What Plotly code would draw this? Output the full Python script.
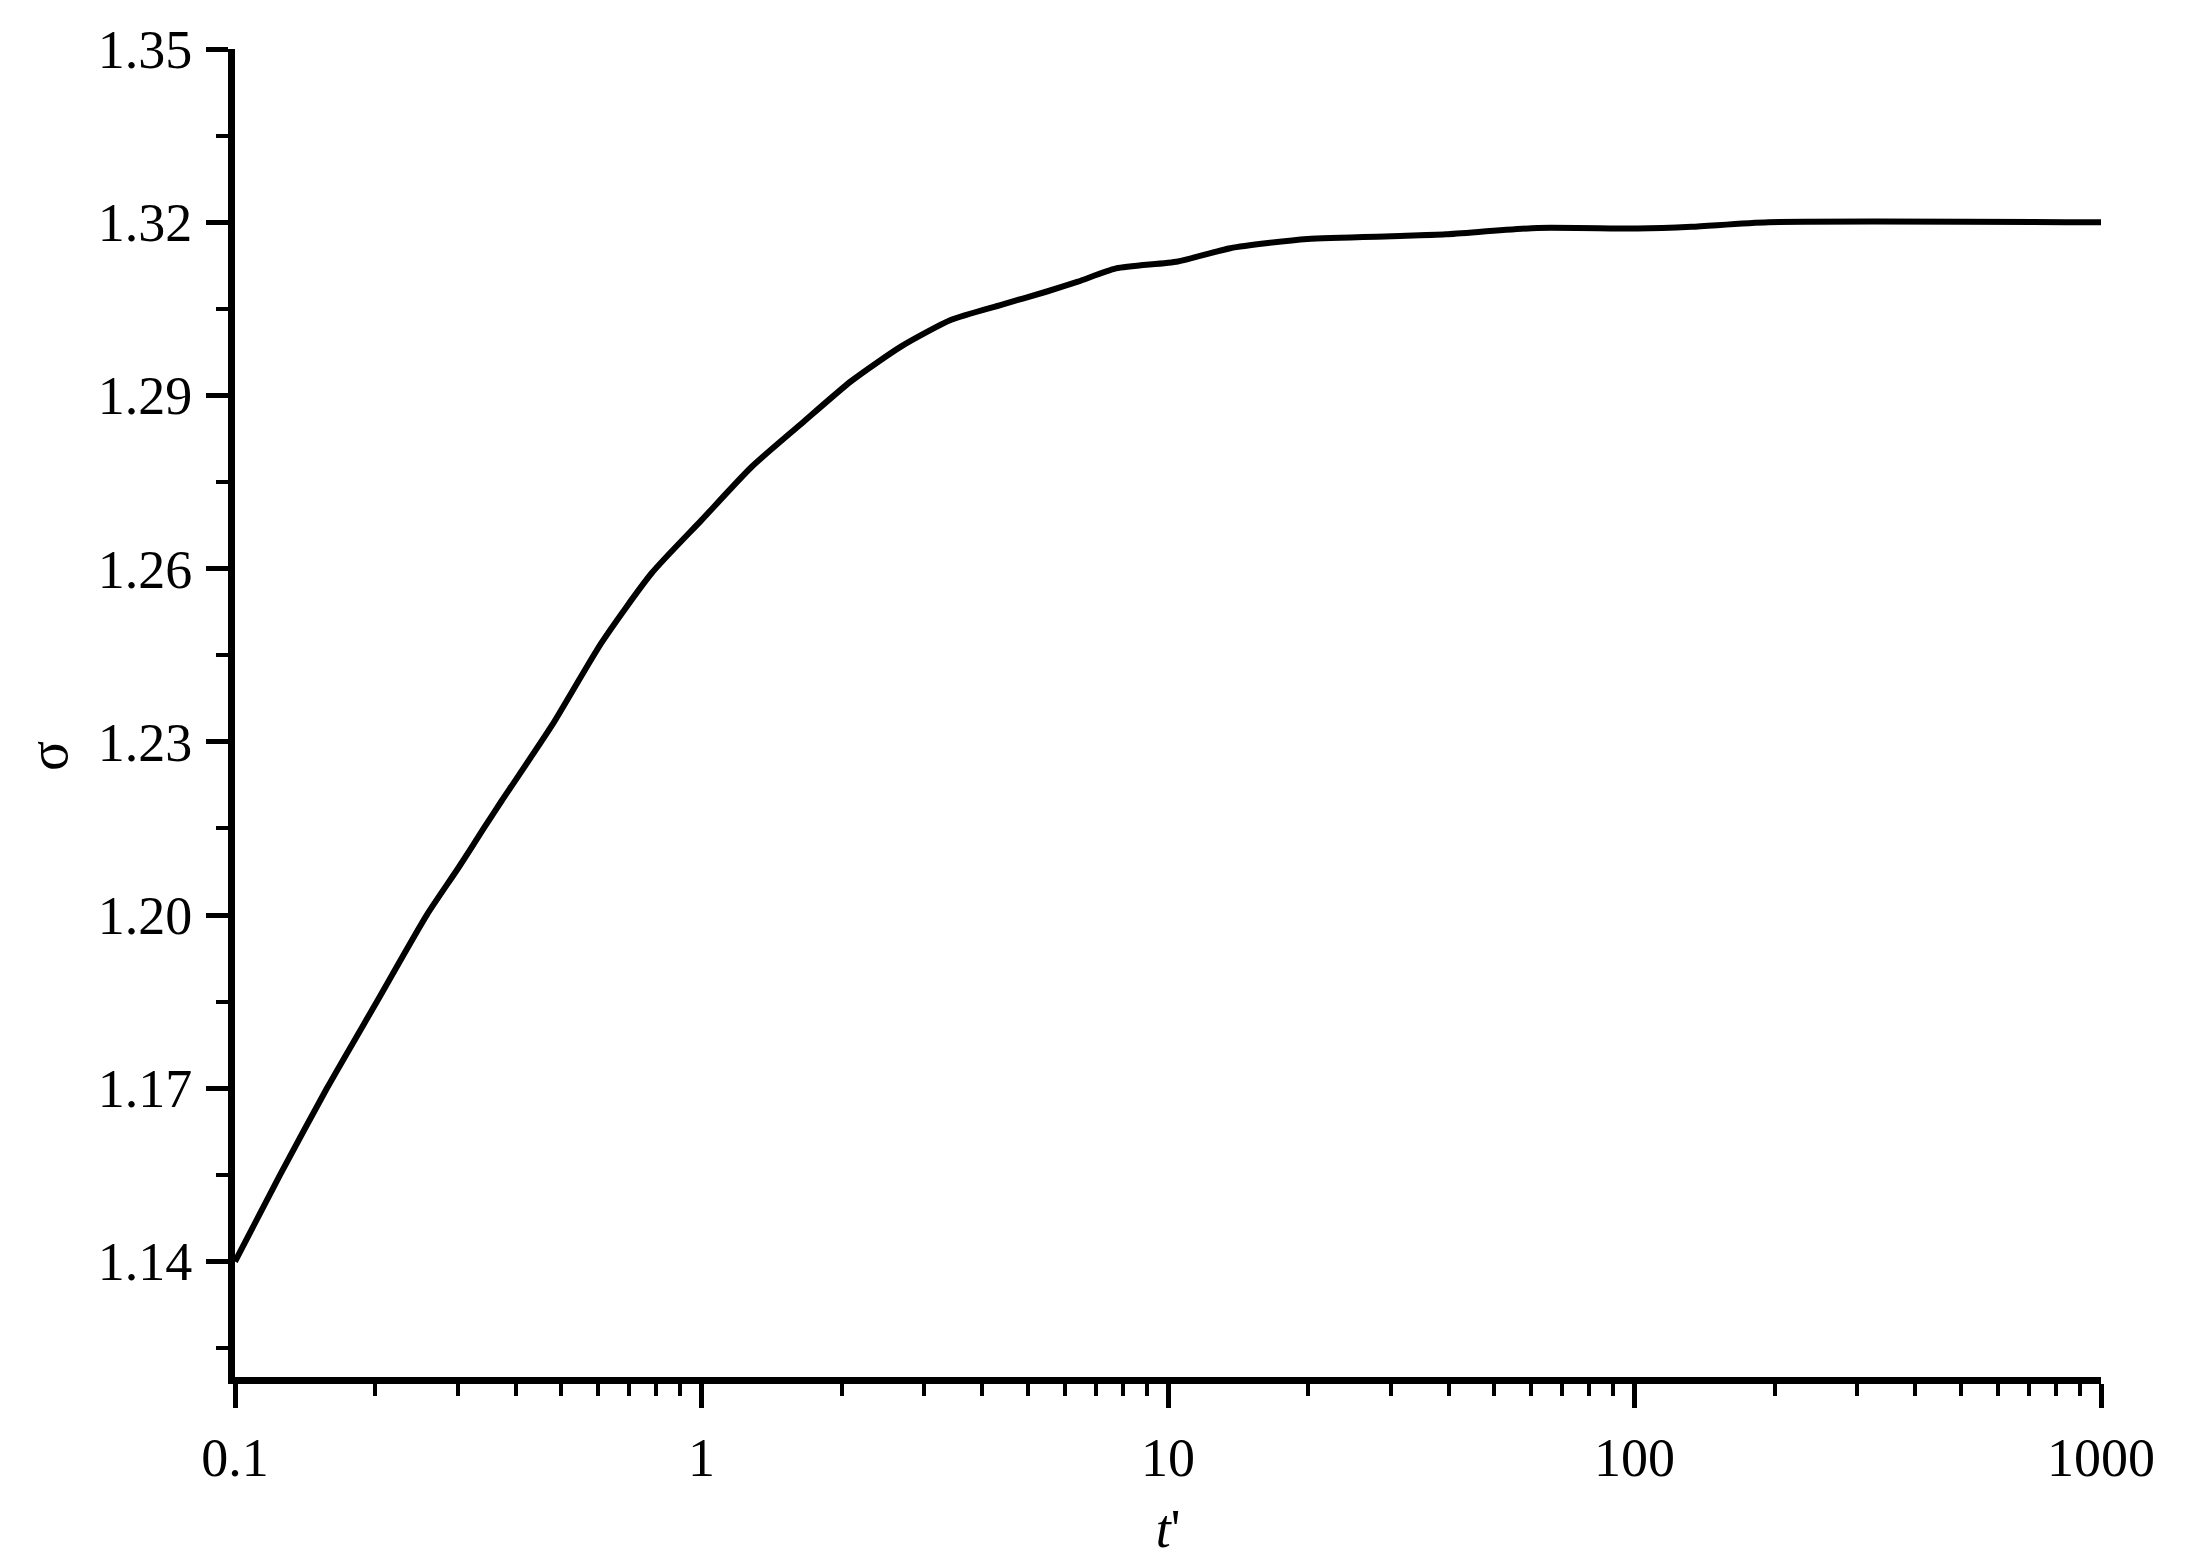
import plotly.graph_objects as go

# Data
t_prime = [0.1, 0.1249, 0.1574, 0.2014, 0.2576, 0.3013, 0.3412, 0.373, 0.4775, 0.6107,
           0.7816, 1.0, 1.28, 1.637, 2.095, 2.681, 3.43, 4.39, 5.5, 6.41,
           7.74, 10.5, 13.6, 19.9, 31.4, 39.4, 61.9, 101.5, 132.5, 193.6, 1000]
sigma = [1.1400, 1.1550, 1.1700, 1.1850, 1.2000, 1.2082, 1.2150, 1.2198, 1.2328, 1.2472,
         1.2592, 1.2684, 1.2776, 1.2851, 1.2925, 1.2985, 1.3031, 1.3057, 1.3080, 1.3097,
         1.3120, 1.3132, 1.3155, 1.3171, 1.3176, 1.3179, 1.3190, 1.3189, 1.3192, 1.3200, 1.3200]

x_tickvals = [0.1, 1, 10, 100, 1000]
x_ticktext = ["0.1", "1", "10", "100", "1000"]
y_tickvals = [1.14, 1.17, 1.20, 1.23, 1.26, 1.29, 1.32, 1.35]
y_ticktext = ["1.14", "1.17", "1.20", "1.23", "1.26", "1.29", "1.32", "1.35"]

FONT = "Liberation Serif, Times New Roman, serif"

fig = go.Figure()
fig.add_trace(go.Scatter(
    x=t_prime, y=sigma, mode="lines",
    line=dict(color="black", width=6, shape="spline", smoothing=0.6),
    showlegend=False,
))

fig.update_layout(
    width=2196, height=1555,
    margin=dict(l=227, r=103, t=38, b=182),
    paper_bgcolor="white", plot_bgcolor="white",
    font=dict(family=FONT, size=54, color="black"),
    xaxis=dict(
        type="log", range=[-1, 3],
        tickmode="array", tickvals=x_tickvals, ticktext=x_ticktext,
        ticks="outside", ticklen=24, tickwidth=5, tickcolor="black",
        showline=True, linecolor="black", linewidth=7,
        showgrid=False, zeroline=False,
        minor=dict(dtick="D1", ticks="outside", ticklen=12, tickwidth=4,
                   tickcolor="black", showgrid=False),
        ticklabelstandoff=3,
        title=dict(text="<i>t</i>'", font=dict(family=FONT, size=54), standoff=25),
    ),
    yaxis=dict(
        range=[1.12, 1.35],
        tickmode="array", tickvals=y_tickvals, ticktext=y_ticktext,
        ticks="outside", ticklen=22, tickwidth=5, tickcolor="black",
        showline=True, linecolor="black", linewidth=7,
        showgrid=False, zeroline=False,
        minor=dict(tick0=1.125, dtick=0.015, ticks="outside", ticklen=12, tickwidth=4,
                   tickcolor="black", showgrid=False),
        ticklabelstandoff=3,
    ),
    annotations=[dict(
        text="σ", xref="paper", yref="paper", x=-0.1, y=0.468,
        showarrow=False, textangle=-90, font=dict(family=FONT, size=56, color="black"),
        xanchor="center", yanchor="middle",
    )],
)

fig.write_html("out.html")
